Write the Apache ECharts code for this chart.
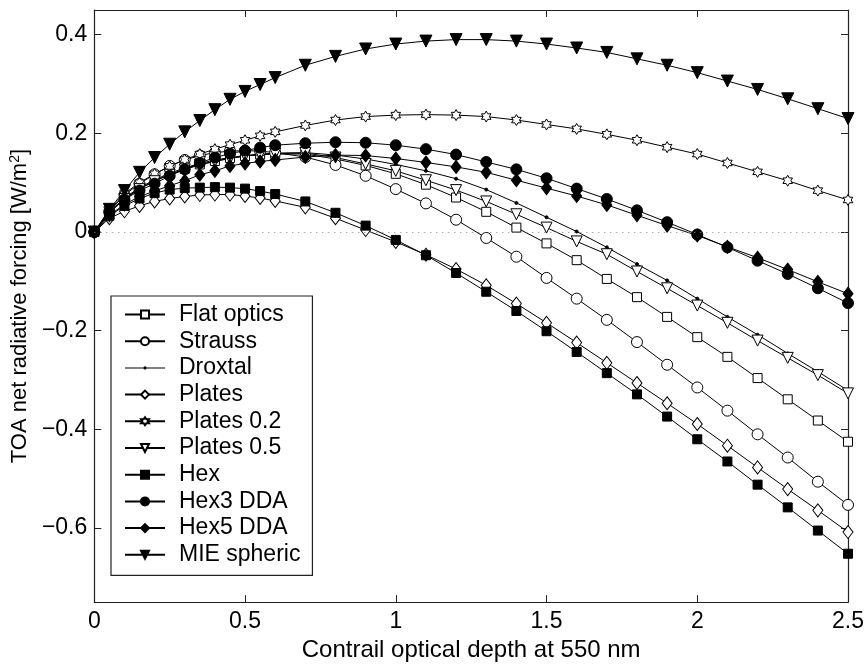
<!DOCTYPE html>
<html>
<head>
    <meta charset="utf-8">
    <script src="https://cdn.jsdelivr.net/npm/echarts@6/dist/echarts.min.js"></script>
</head>
<body style="margin:0">
<div id="main" style="width: 867px;height:667px;"></div>
<script>
    // optical depth values (x)
    var tau = [0, 0.05, 0.1, 0.15, 0.2, 0.25, 0.3, 0.35, 0.4, 0.45, 0.5, 0.55, 0.6,
        0.7, 0.8, 0.9, 1.0, 1.1, 1.2, 1.3, 1.4, 1.5, 1.6, 1.7, 1.8, 1.9, 2.0, 2.1, 2.2, 2.3, 2.4, 2.5];

    var flatOptics = [0, 0.040, 0.068, 0.088, 0.104, 0.117, 0.128, 0.137, 0.144, 0.150, 0.154, 0.157, 0.158,
        0.158, 0.148, 0.135, 0.118, 0.096, 0.070, 0.041, 0.009, -0.023, -0.057, -0.095, -0.132, -0.172, -0.213, -0.253, -0.296, -0.339, -0.382, -0.425];
    var strauss = [0, 0.042, 0.075, 0.098, 0.117, 0.134, 0.146, 0.155, 0.161, 0.164, 0.165, 0.164, 0.161,
        0.152, 0.136, 0.114, 0.087, 0.058, 0.025, -0.012, -0.050, -0.093, -0.135, -0.178, -0.223, -0.269, -0.315, -0.362, -0.410, -0.457, -0.506, -0.553];
    var droxtal = [0, 0.041, 0.069, 0.090, 0.106, 0.119, 0.130, 0.139, 0.146, 0.151, 0.155, 0.158, 0.160,
        0.161, 0.156, 0.148, 0.137, 0.124, 0.108, 0.086, 0.059, 0.030, 0.001, -0.031, -0.065, -0.098, -0.135, -0.172, -0.208, -0.246, -0.283, -0.321];
    var plates = [0, 0.028, 0.042, 0.053, 0.062, 0.068, 0.072, 0.075, 0.076, 0.076, 0.073, 0.069, 0.063,
        0.050, 0.028, 0.004, -0.020, -0.046, -0.075, -0.108, -0.145, -0.184, -0.224, -0.265, -0.306, -0.347, -0.389, -0.433, -0.477, -0.521, -0.564, -0.608];
    var plates02 = [0, 0.045, 0.078, 0.100, 0.118, 0.133, 0.147, 0.158, 0.168, 0.177, 0.186, 0.195, 0.203,
        0.216, 0.227, 0.234, 0.237, 0.238, 0.237, 0.234, 0.227, 0.218, 0.209, 0.198, 0.186, 0.172, 0.158, 0.140, 0.122, 0.104, 0.084, 0.065];
    var plates05 = [0, 0.040, 0.067, 0.087, 0.103, 0.116, 0.127, 0.136, 0.143, 0.149, 0.154, 0.157, 0.159,
        0.160, 0.151, 0.138, 0.124, 0.105, 0.085, 0.062, 0.036, 0.009, -0.019, -0.045, -0.080, -0.114, -0.149, -0.184, -0.220, -0.255, -0.290, -0.327];
    var hex = [0, 0.033, 0.053, 0.068, 0.079, 0.086, 0.089, 0.090, 0.091, 0.090, 0.088, 0.083, 0.077,
        0.062, 0.039, 0.013, -0.016, -0.047, -0.083, -0.121, -0.160, -0.201, -0.243, -0.286, -0.329, -0.374, -0.420, -0.465, -0.512, -0.558, -0.605, -0.652];
    var hex3 = [0, 0.040, 0.066, 0.084, 0.098, 0.114, 0.127, 0.140, 0.151, 0.159, 0.165, 0.171, 0.176,
        0.180, 0.182, 0.181, 0.176, 0.168, 0.157, 0.142, 0.127, 0.109, 0.088, 0.067, 0.044, 0.020, -0.005, -0.031, -0.058, -0.085, -0.114, -0.144];
    var hex5 = [0, 0.034, 0.056, 0.072, 0.083, 0.094, 0.104, 0.116, 0.124, 0.134, 0.139, 0.143, 0.146,
        0.152, 0.156, 0.155, 0.149, 0.141, 0.132, 0.121, 0.105, 0.089, 0.073, 0.055, 0.034, 0.013, -0.007, -0.030, -0.052, -0.076, -0.101, -0.125];
    var mie = [0, 0.046, 0.084, 0.121, 0.151, 0.178, 0.203, 0.226, 0.248, 0.269, 0.285, 0.299, 0.313,
        0.338, 0.356, 0.371, 0.381, 0.387, 0.390, 0.390, 0.387, 0.381, 0.373, 0.364, 0.351, 0.338, 0.323, 0.306, 0.289, 0.270, 0.250, 0.230];

    var xTicks = [0, 0.5, 1, 1.5, 2, 2.5];
    var yTicks = [-0.6, -0.4, -0.2, 0, 0.2, 0.4];

    var FONT = 'Liberation Sans';
    // six-pointed star (matlab hexagram)
    var hexagram = 'path://M100 0 L128.9 50 L186.6 50 L157.7 100 L186.6 150 L128.9 150 L100 200 L71.1 150 L13.4 150 L42.3 100 L13.4 50 L71.1 50 Z';
    // legend icon for droxtal: thin line with a small dot (corner points keep the box 40x10)
    var dotLineIcon = 'path://M0 0 L0.01 0 L0 0.01 Z M40 10 L39.99 10 L40 9.99 Z M0 4.5 L40 4.5 L40 5.5 L0 5.5 Z M20 3.4 A1.6 1.6 0 1 1 20 6.6 A1.6 1.6 0 1 1 20 3.4 Z';

    function mk(name, data, symbol, size, filled, extra) {
        var s = {
            name: name,
            type: 'line',
            data: tau.map(function (t, i) { return [t, data[i]]; }),
            symbol: symbol,
            symbolSize: size,
            showAllSymbol: true,
            lineStyle: {color: '#000', width: 1},
            itemStyle: {color: filled ? '#000' : '#fff', borderColor: '#000', borderWidth: 1},
            emphasis: {disabled: true}
        };
        for (var k in extra) s[k] = extra[k];
        return s;
    }

    var series = [
        mk('Flat optics', flatOptics, 'rect', 9, false, {
            markLine: {
                silent: true, symbol: ['none', 'none'], label: {show: false},
                lineStyle: {color: '#888', type: [1, 5], width: 1},
                data: [{yAxis: 0}]
            }
        }),
        mk('Strauss', strauss, 'circle', 11, false),
        mk('Droxtal', droxtal, 'circle', 3, true),
        mk('Plates', plates, 'diamond', [10, 13], false),
        mk('Plates 0.2', plates02, hexagram, 11, false, {symbolKeepAspect: true}),
        mk('Plates 0.5', plates05, 'triangle', 11, false, {symbolRotate: 180}),
        mk('Hex', hex, 'rect', 9, true),
        mk('Hex3 DDA', hex3, 'circle', 11, true),
        mk('Hex5 DDA', hex5, 'diamond', [10, 13], true),
        mk('MIE spheric', mie, 'triangle', 12, true, {symbolRotate: 180})
    ];

    var legendData = series.map(function (s) {
        if (s.name === 'Droxtal') return {name: s.name, icon: dotLineIcon, itemStyle: {color: '#000', borderWidth: 0}};
        return {name: s.name};
    });

    var axisLine = {show: true, onZero: false, lineStyle: {color: '#222', width: 1.2}};

    var myChart = echarts.init(document.getElementById('main'));
    var option = {
        animation: false,
        backgroundColor: '#fff',
        grid: {left: 93, right: 15, top: 10, bottom: 60},
        legend: {
            orient: 'vertical',
            left: 111,
            top: 296,
            padding: [7, 12, 9, 13],
            backgroundColor: '#fff',
            borderColor: '#222',
            borderWidth: 1.2,
            borderRadius: 0,
            itemWidth: 40,
            itemHeight: 10,
            itemGap: 3.7,
            symbolRotate: 'inherit',
            textStyle: {fontFamily: FONT, fontSize: 23, color: '#000', lineHeight: 22, padding: [0, 0, 0, 9]},
            data: legendData
        },
        xAxis: [{
            type: 'value', min: 0, max: 2.5, interval: 0.5,
            name: 'Contrail optical depth at 550 nm',
            nameLocation: 'middle', nameGap: 32,
            nameTextStyle: {fontFamily: FONT, fontSize: 24, color: '#000'},
            axisLine: axisLine,
            axisTick: {inside: true, length: 7, lineStyle: {color: '#222'}, customValues: xTicks},
            axisLabel: {margin: 8, fontFamily: FONT, fontSize: 23, color: '#000', customValues: xTicks},
            splitLine: {show: false}
        }, {
            type: 'value', min: 0, max: 2.5, interval: 0.5, position: 'top',
            axisLine: axisLine,
            axisTick: {inside: true, length: 7, lineStyle: {color: '#222'}},
            axisLabel: {show: false},
            splitLine: {show: false}
        }],
        yAxis: [{
            type: 'value', min: -0.75, max: 0.45,
            name: 'TOA net radiative forcing [W/m{sup|2}]',
            nameLocation: 'middle', nameGap: 58,
            nameTextStyle: {
                fontFamily: FONT, fontSize: 22, color: '#000',
                rich: {sup: {fontFamily: FONT, fontSize: 14, color: '#000', verticalAlign: 'bottom', padding: [0, 0, 10, 0]}}
            },
            axisLine: axisLine,
            axisTick: {inside: true, length: 7, lineStyle: {color: '#222'}, customValues: yTicks},
            axisLabel: {
                margin: 7, fontFamily: FONT, fontSize: 23, color: '#000', customValues: yTicks,
                formatter: function (v) {
                    if (Math.abs(v) < 1e-9) return '0';
                    return (v < 0 ? '\u2212' : '') + Math.abs(v).toFixed(1);
                }
            },
            splitLine: {show: false}
        }, {
            type: 'value', min: -0.75, max: 0.45, position: 'right',
            axisLine: axisLine,
            axisTick: {inside: true, length: 7, lineStyle: {color: '#222'}, customValues: yTicks},
            axisLabel: {show: false},
            splitLine: {show: false}
        }],
        series: series
    };
    myChart.setOption(option);
</script>
</body>
</html>
